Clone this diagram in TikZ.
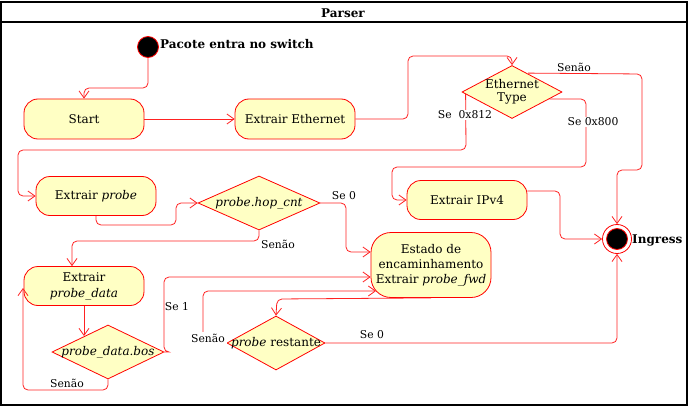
\documentclass[tikz,border=0pt]{standalone}
\usepackage{fontspec}
\setmainfont{DejaVu Serif}
\usetikzlibrary{shapes.geometric,arrows.meta,calc}
\definecolor{statefill}{HTML}{FFFFC4}
\definecolor{linered}{HTML}{FF2222}
\tikzset{
  frame/.style={draw=black,line width=1.1pt},
  statebox/.style={draw=red,fill=statefill,rounded corners=14pt,line width=0.8pt,
    minimum width=120pt,minimum height=40pt,inner sep=1pt,align=center,font=\fontsize{12}{15}\selectfont},
  decbox/.style={draw=red,fill=statefill,diamond,inner sep=0pt,line width=0.8pt,font=\fontsize{12}{15}\selectfont},
  conn/.style={draw=linered,line width=0.8pt,rounded corners=5pt,-{Straight Barb[length=7pt,width=10pt]}},
  elbl/.style={font=\fontsize{10.8}{12}\selectfont,inner sep=1pt},
  blbl/.style={font=\fontsize{12}{14}\selectfont\bfseries,inner sep=1pt},
}
\begin{document}
\begin{tikzpicture}[x=1pt,y=-1pt]
\useasboundingbox (0,0) rectangle (690,409);
\draw[frame] (1,2) rectangle (687,405);
\draw[frame] (1,22) -- (687,22);
\node[blbl] (title) at (343,13) {Parser};

% nodes
\node[circle,draw=red,fill=black,minimum size=21pt,inner sep=0pt,line width=0.8pt] (init) at (148,47) {};
\node[blbl,anchor=west] (initlbl) at (159,44) {Pacote entra no switch};
\node[statebox] (start) at (84,119) {Start};
\node[statebox] (eth) at (295,119) {Extrair Ethernet};
\node[decbox,minimum width=100pt,minimum height=53pt] (ethtype) at (512,92)
  {\makebox[0pt]{\raisebox{-2pt}{\begin{tabular}{@{}c@{}}Ethernet\\[-1pt]Type\end{tabular}}}};
\node[statebox,minimum height=39pt] (probe) at (96,196) {Extrair \textit{probe}};
\node[decbox,minimum width=122pt,minimum height=54pt] (hop) at (259,203) {\makebox[0pt]{\textit{probe.hop\_cnt}}};
\node[statebox,minimum height=39pt] (ipv4) at (467,200) {Extrair IPv4};
\node[circle,draw=red,fill=white,minimum size=29pt,inner sep=0pt,line width=0.8pt] (final) at (617,239) {};
\node[circle,draw=red,fill=black,minimum size=21pt,inner sep=0pt,line width=0.8pt] (finalin) at (final.center) {};
\node[blbl,anchor=west] (ingress) at (631,240) {Ingress};
\node[statebox,minimum height=65pt,rounded corners=20pt] (estado) at (431,265)
  {Estado de\\[0pt]encaminhamento\\[0pt]Extrair \textit{probe\_fwd}};
\node[statebox,minimum height=39pt] (pdata) at (84,286) {Extrair\\[1pt]\textit{probe\_data}};
\node[decbox,minimum width=112pt,minimum height=54pt] (bos) at (108,352) {\makebox[0pt]{\textit{probe\_data.bos}}};
\node[decbox,minimum width=98pt,minimum height=54pt] (rest) at (276,343) {\makebox[0pt]{\textit{probe} restante}};

% helper coordinates
\coordinate (pdin) at (23,288);
\coordinate (estin) at (376,291);

% connectors
\draw[conn] (init.south) -- (148,88) -- (84,88) -- (start.north);
\draw[conn] (start.east) -- (eth.west);
\draw[conn] (eth.east) -- (408,119) -- (408,56) -- (512,56) -- (ethtype.north);
\draw[conn] ($(ethtype.west)+(4,2)$) -- (466,150) -- (18,150) -- (18,196) -- (probe.west);
\node[elbl,fill=white] (l812) at (465,115) {Se\ \ 0x812};
\draw[conn] ($(ethtype.east)+(-13,7)$) -- (586,99) -- (586,167) -- (392,167) -- (392,200) -- (ipv4.west);
\node[elbl,fill=white] (l800) at (593,122) {Se 0x800};
\draw[conn] ($(ethtype.north)+(16,8)$) -- (642,74) -- (642,170) -- (617,170) -- (final.north);
\node[elbl] (lsen1) at (574,67) {Senão};
\draw[conn] ($(ipv4.east)+(0,-9)$) -- (560,191) -- (560,239) -- (final.west);
\draw[conn] (probe.south) -- (96,225) -- (176,225) -- (176,203) -- (hop.west);
\draw[conn] (hop.south) -- (259,241) -- (72,241) -- ($(pdata.north)+(-12,0)$);
\node[elbl] (lsen2) at (278,244) {Senão};
\draw[conn] (hop.east) -- (346,203) -- (346,252) -- ($(estado.west)+(0,-13)$);
\node[elbl] (lse0a) at (344,196) {Se 0};
\draw[conn] (pdata.south) -- (84,336);
\draw[conn] (bos.south) -- (108,390) -- (23,390) -- (pdin);
\node[elbl] (lsen3) at (67,383) {Senão};
\draw[conn] (bos.east) -- (164,352) -- (164,277) -- ($(estado.west)+(0,12)$);
\node[elbl] (lse1) at (177,307) {Se 1};
\draw[conn] (estado.south) -- (277,299) -- (rest.north);
\draw[conn] (rest.west) -- (203,343) -- (203,291) -- (estin);
\node[elbl,fill=white,inner sep=2pt] (lsen4) at (208,338) {Senão};
\draw[conn] (rest.east) -- (617,343) -- (final.south);
\node[elbl] (lse0b) at (372,335) {Se 0};
\end{tikzpicture}
\end{document}
